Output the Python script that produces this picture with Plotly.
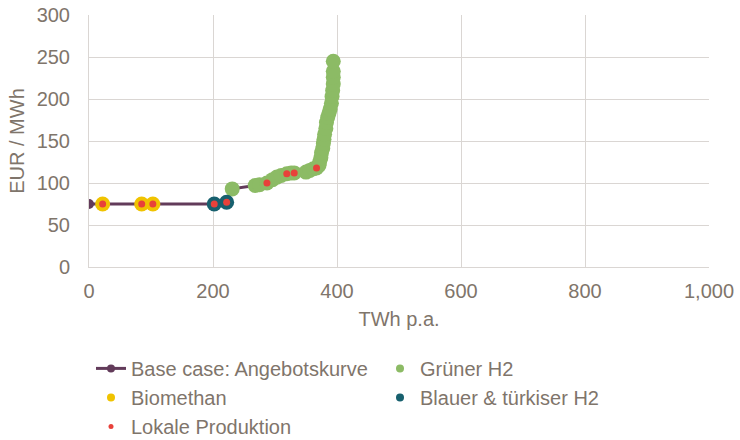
import plotly.graph_objects as go

# ---- data ----
base_x = [0, 22, 85, 103, 202, 222, 231, 268, 275, 287, 296, 303, 310, 319, 326, 331, 350, 356, 362, 367,
          371, 372, 374, 375, 377, 378, 379, 380, 382, 383, 385, 387, 389, 391, 392, 393, 394, 394, 394, 394]
base_y = [75, 75, 75, 75, 75, 77, 93, 97, 98, 100, 104, 107, 109, 111, 112, 112, 113, 115, 117, 118,
          121, 125, 130, 136, 141, 147, 152, 158, 165, 172, 178, 183, 188, 195, 203, 210, 218, 226, 233, 245]

green_x = [231, 268, 275, 287, 296, 303, 310, 319, 326, 331, 350, 356, 362, 367,
           371, 372, 374, 375, 377, 378, 379, 380, 382, 383, 385, 387, 389, 391, 392, 393, 394, 394, 394, 394]
green_y = [93, 97, 98, 100, 104, 107, 109, 111, 112, 112, 113, 115, 117, 118,
           121, 125, 130, 136, 141, 147, 152, 158, 165, 172, 178, 183, 188, 195, 203, 210, 218, 226, 233, 245]

bio_x = [22, 85, 103]
bio_y = [75, 75, 75]

blue_x = [202, 222]
blue_y = [75, 77]

local_x = [22, 85, 103, 202, 222, 287, 319, 331, 367]
local_y = [75, 75, 75, 75, 77, 100, 111, 112, 118]

x_ticks = [0, 200, 400, 600, 800, 1000]
x_labels = ["0", "200", "400", "600", "800", "1,000"]
y_ticks = [0, 50, 100, 150, 200, 250, 300]

# ---- style ----
PURPLE = "#623B5A"
GREEN = "#8CBB65"
YELLOW = "#F0C300"
BLUE = "#17606E"
RED = "#E8413A"
TEXT = "#7F756B"
GRID = "#DAD6D3"
FONT = "Liberation Sans, Arial, sans-serif"
FS = 20

fig = go.Figure()

# visible marks (no legend)
fig.add_trace(go.Scatter(x=base_x, y=base_y, mode="lines+markers",
                         line=dict(color=PURPLE, width=3),
                         marker=dict(color=PURPLE, size=10), showlegend=False, hoverinfo="skip"))
fig.add_trace(go.Scatter(x=green_x, y=green_y, mode="markers",
                         marker=dict(color=GREEN, size=15), showlegend=False))
fig.add_trace(go.Scatter(x=bio_x, y=bio_y, mode="markers",
                         marker=dict(color=YELLOW, size=15), showlegend=False))
fig.add_trace(go.Scatter(x=blue_x, y=blue_y, mode="markers",
                         marker=dict(color=BLUE, size=15), showlegend=False))
fig.add_trace(go.Scatter(x=local_x, y=local_y, mode="markers",
                         marker=dict(color=RED, size=7), showlegend=False))

# legend entries
fig.add_trace(go.Scatter(x=[None], y=[None], mode="lines+markers", name="Base case: Angebotskurve",
                         line=dict(color=PURPLE, width=3), marker=dict(color=PURPLE, size=8)))
fig.add_trace(go.Scatter(x=[None], y=[None], mode="markers", name="Grüner H2",
                         marker=dict(color=GREEN, size=8)))
fig.add_trace(go.Scatter(x=[None], y=[None], mode="markers", name="Biomethan",
                         marker=dict(color=YELLOW, size=8)))
fig.add_trace(go.Scatter(x=[None], y=[None], mode="markers", name="Blauer & türkiser H2",
                         marker=dict(color=BLUE, size=8)))
fig.add_trace(go.Scatter(x=[None], y=[None], mode="markers", name="Lokale Produktion",
                         marker=dict(color=RED, size=5)))

fig.update_layout(
    width=740, height=440,
    margin=dict(l=89, r=31, t=15, b=173, autoexpand=False),
    paper_bgcolor="white", plot_bgcolor="white",
    font=dict(family=FONT, size=FS, color=TEXT),
    legend=dict(orientation="h", x=2 / 620, xanchor="left", y=-0.325, yanchor="top",
                entrywidth=244, entrywidthmode="pixels",
                font=dict(family=FONT, size=FS, color=TEXT),
                bgcolor="rgba(0,0,0,0)"),
    xaxis=dict(range=[0, 1000], tickvals=x_ticks, ticktext=x_labels,
               showgrid=True, gridcolor=GRID, gridwidth=1, zeroline=False,
               showline=True, linecolor=GRID, linewidth=1, automargin=False,
               ticks="", ticklabelstandoff=6, ticklabeloverflow="allow",
               tickfont=dict(size=FS, color=TEXT),
               title=dict(text="TWh p.a.", font=dict(size=FS, color=TEXT), standoff=10)),
    yaxis=dict(range=[0, 300], tickvals=y_ticks,
               showgrid=True, gridcolor=GRID, gridwidth=1, zeroline=False,
               showline=True, linecolor=GRID, linewidth=1, automargin=False,
               ticks="", ticklabelstandoff=14, ticklabeloverflow="allow",
               tickfont=dict(size=FS, color=TEXT),
               title=dict(text="EUR / MWh", font=dict(size=FS, color=TEXT), standoff=6)),
)

# remove the default 8px page margin so the 740x440 figure fills the window exactly
fig.write_html("out.html",
               config={"displayModeBar": False},
               post_script="document.body.style.margin='0';document.body.style.overflow='hidden';")
